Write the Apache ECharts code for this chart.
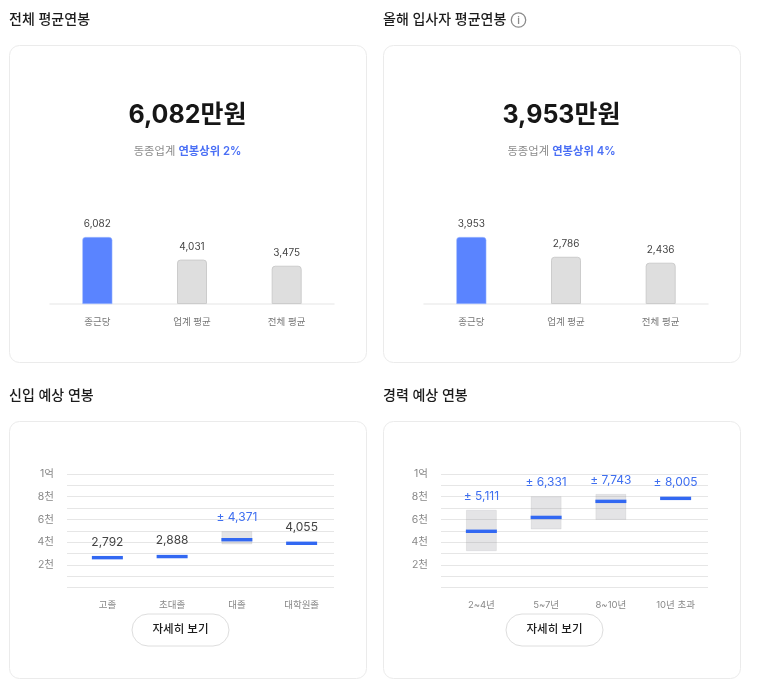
<!DOCTYPE html>
<html><head><meta charset="utf-8">
<script src="https://cdn.jsdelivr.net/npm/echarts@6/dist/echarts.min.js"></script>
<style>html,body{margin:0;padding:0;background:#fff}#c{width:762px;height:693px}</style>
</head><body><div id="c"></div>
<script>
const FONT = 'Inter, "Noto Sans CJK KR", sans-serif';
const barCats = ['종근당', '업계 평균', '전체 평균'];
const totalValues = [6082, 4031, 3475];
const hireValues = [3953, 2786, 2436];
const eduCats = ['고졸', '초대졸', '대졸', '대학원졸'];
const eduMid = [2792, 2888, 4371, 4055];
const eduLow = [null, null, 3850, null];
const eduHigh = [null, null, 4930, null];
const expCats = ['2~4년', '5~7년', '8~10년', '10년 초과'];
const expMid = [5111, 6331, 7743, 8005];
const expLow = [3250, 5160, 6010, null];
const expHigh = [6810, 8000, 8210, null];
const yTicks = {2000: '2천', 4000: '4천', 6000: '6천', 8000: '8천', 10000: '1억'};
const fmt = v => v.toLocaleString('en-US');

const chart = echarts.init(document.getElementById('c'), null, {renderer: 'canvas'});

function card(x, y, w, h) {
  return {type: 'rect', silent: true, z: -1, shape: {x, y, width: w, height: h, r: 10},
    style: {fill: '#fff', stroke: '#ebebeb', lineWidth: 1}};
}
function text(x, y, t, size, color, weight, align) {
  return {type: 'text', silent: true, z: 10, x, y, style: {text: t, font: (weight || 400) + ' ' + size + 'px ' + FONT,
    fill: color, align: align || 'left', verticalAlign: 'middle'}};
}
function sub(x, y, rank) {
  return {type: 'text', silent: true, z: 10, x, y, style: {
    text: '{a|동종업계 }{b|연봉상위 ' + rank + '}', align: 'center', verticalAlign: 'middle',
    rich: {a: {font: '400 11.3px ' + FONT, fill: '#8c8c8c'}, b: {font: '600 11.3px ' + FONT, fill: '#4a6ff5'}}}};
}
function button(x, y) {
  return [{type: 'rect', silent: true, z: 9, shape: {x, y, width: 97, height: 32, r: 16},
      style: {fill: '#fff', stroke: '#dedede', lineWidth: 1}},
    text(x + 48.5, y + 16, '자세히 보기', 11.5, '#1c1c1c', 500, 'center')];
}

const graphic = [
  card(9.5, 45.5, 357, 317), card(383.5, 45.5, 357, 317),
  card(9.5, 421.5, 357, 257), card(383.5, 421.5, 357, 257),
  text(9, 19.5, '전체 평균연봉', 14, '#1c1c1c', 500),
  text(383, 19.5, '올해 입사자 평균연봉', 14, '#1c1c1c', 500),
  text(9, 395.5, '신입 예상 연봉', 14, '#1c1c1c', 500),
  text(383, 395.5, '경력 예상 연봉', 14, '#1c1c1c', 500),
  text(187.5, 115, '6,082만원', 25, '#161616', 700, 'center'),
  text(561.5, 115, '3,953만원', 25, '#161616', 700, 'center'),
  sub(187.5, 151.5, '2%'), sub(561.5, 151.5, '4%'),
  {type: 'circle', silent: true, z: 10, shape: {cx: 518.5, cy: 20, r: 7.2}, style: {fill: 'none', stroke: '#8a8a8a', lineWidth: 1.3}},
  text(518.5, 20.5, 'i', 10, '#8a8a8a', 600, 'center'),
  ...button(132, 614), ...button(506, 614)
];

function topGrid(left) { return {left, width: 284, top: 237, height: 67}; }
function lineGrid(left) { return {left, width: 267, top: 474, height: 113.7}; }
function bandGrid(left) { return {left: left + 8, width: 259, top: 474, height: 113.7}; }

const grid = [topGrid(50), topGrid(424), lineGrid(67), bandGrid(67), lineGrid(441), bandGrid(441)];

function topX(i) {
  return {gridIndex: i, type: 'category', data: barCats, axisTick: {show: false},
    axisLine: {lineStyle: {color: '#eeeeee', width: 1.5}},
    axisLabel: {color: '#777', fontSize: 9.5, fontFamily: FONT, margin: 13, interval: 0}};
}
function topY(i, max) {
  return {gridIndex: i, type: 'value', min: 0, max, show: false};
}
function gridX(i) { return {gridIndex: i, type: 'category', data: ['a', 'b', 'c', 'd'], show: false}; }
function gridY(i) {
  return {gridIndex: i, type: 'value', min: 0, max: 10000, interval: 1000,
    axisLine: {show: false}, axisTick: {show: false},
    splitLine: {lineStyle: {color: '#e6e6e6', width: 1}},
    axisLabel: {color: '#888', fontSize: 10.5, fontFamily: FONT, margin: 13, formatter: v => yTicks[v] || ''}};
}
function bandX(i, cats) {
  return {gridIndex: i, type: 'category', data: cats, axisTick: {show: false}, axisLine: {show: false},
    axisLabel: {color: '#888', fontSize: 9.5, fontFamily: FONT, margin: 13, interval: 0}};
}
function bandY(i) { return {gridIndex: i, type: 'value', min: 0, max: 10000, show: false}; }

const xAxis = [topX(0), topX(1), gridX(2), bandX(3, eduCats), gridX(4), bandX(5, expCats)];
const yAxis = [topY(0, 6082), topY(1, 3953), gridY(2), bandY(3), gridY(4), bandY(5)];

function barSeries(i, values) {
  return {type: 'bar', xAxisIndex: i, yAxisIndex: i, barWidth: 30, silent: true,
    data: values.map((v, k) => ({value: v, itemStyle: k === 0
      ? {color: '#5a84ff', borderColor: '#a9c0ff', borderWidth: 0.5, borderRadius: [3, 3, 0, 0]}
      : {color: '#dedede', borderColor: '#cccccc', borderWidth: 1, borderRadius: [3, 3, 0, 0]}})),
    label: {show: true, position: 'top', distance: 8, color: '#444', fontSize: 10, fontFamily: FONT,
      formatter: p => fmt(p.value)}};
}
function rangeSeries(i, mids, lows, highs) {
  return {type: 'custom', xAxisIndex: i, yAxisIndex: i, silent: true, clip: false,
    data: mids.map((m, k) => [k, m, lows[k], highs[k]]),
    encode: {x: 0, y: 1},
    renderItem(params, api) {
      const k = api.value(0), m = api.value(1);
      const low = lows[k], high = highs[k];
      const cx = api.coord([k, m])[0], my = api.coord([k, m])[1];
      const kids = [];
      let top = my;
      if (high != null) {
        const y1 = api.coord([k, high])[1], y0 = api.coord([k, low])[1];
        top = y1;
        kids.push({type: 'rect', shape: {x: cx - 15, y: y1, width: 30, height: y0 - y1},
          style: {fill: 'rgba(130,130,140,0.22)', stroke: 'rgba(130,130,140,0.12)', lineWidth: 1}});
      }
      kids.push({type: 'rect', shape: {x: cx - 15.5, y: my, width: 31, height: 3.4}, style: {fill: '#3268f2'}});
      const ranged = high != null || i === 5;
      kids.push({type: 'text', style: {x: cx, y: top - 8, text: (ranged ? '± ' : '') + fmt(m),
        font: '400 12px ' + FONT, fill: ranged ? '#3f6ff0' : '#444',
        align: 'center', verticalAlign: 'bottom'}});
      return {type: 'group', children: kids};
    }};
}

chart.setOption({
  animation: false, backgroundColor: '#fff', graphic, grid, xAxis, yAxis,
  series: [barSeries(0, totalValues), barSeries(1, hireValues),
    rangeSeries(3, eduMid, eduLow, eduHigh), rangeSeries(5, expMid, expLow, expHigh)]
});
</script></body></html>
